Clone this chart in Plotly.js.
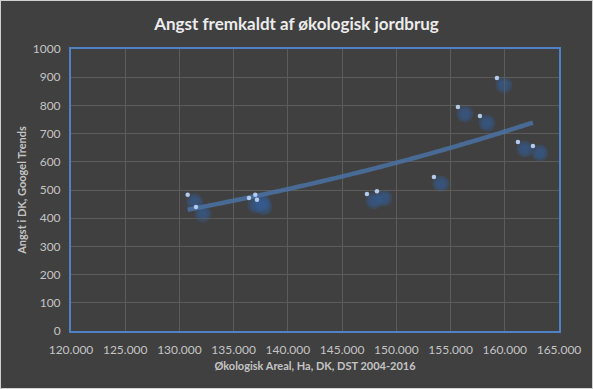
<!DOCTYPE html>
<html>
<head>
<meta charset="utf-8">
<script src="https://cdn.plot.ly/plotly-3.0.1.min.js"></script>
<style>
html,body{margin:0;padding:0;background:#404040;}
#wrap{width:591px;height:387px;border:1px solid #d0d0d0;overflow:hidden;}
#chart{width:591px;height:387px;}
</style>
</head>
<body>
<div id="wrap"><div id="chart"></div></div>
<script>
// Økologisk areal (ha) and Google Trends "angst" index, 2004-2016
const areal = [130760, 131525, 136412, 136992, 137150, 147291, 148213, 153469, 155681, 157710, 159277, 161213, 162596];
const angst = [483, 440, 472, 483, 465, 486, 496, 546, 794, 762, 897, 670, 656];
const xTicks = [120000, 125000, 130000, 135000, 140000, 145000, 150000, 155000, 160000, 165000];
const yTicks = [0, 100, 200, 300, 400, 500, 600, 700, 800, 900, 1000];

// Exponential trendline (least squares on ln y), as Excel does
const n = areal.length;
const lny = angst.map(v => Math.log(v));
const mx = areal.reduce((a, b) => a + b, 0) / n;
const my = lny.reduce((a, b) => a + b, 0) / n;
let sxy = 0, sxx = 0;
for (let i = 0; i < n; i++) { sxy += (areal[i] - mx) * (lny[i] - my); sxx += (areal[i] - mx) ** 2; }
const b = sxy / sxx, a = my - b * mx;
const xmin = Math.min(...areal), xmax = Math.max(...areal);
const trendX = [], trendY = [];
for (let k = 0; k <= 60; k++) { const x = xmin + (xmax - xmin) * k / 60; trendX.push(x); trendY.push(Math.exp(a + b * x)); }

const W = 591, H = 387;
const m = {l: 70, r: 33, t: 48, b: 57};
const pw = W - m.l - m.r, ph = H - m.t - m.b;
const off = 7;
const dx = off / pw, dy = off / ph;

// shadow blobs live on the first (hidden, shifted) subplot so they sit beneath the main marks
const blobLayers = [17, 13, 9].map(s => ({
  x: areal, y: angst, type: 'scatter', mode: 'markers', xaxis: 'x', yaxis: 'y',
  marker: {size: s, color: 'rgba(52,92,150,0.32)', line: {width: 0}},
  hoverinfo: 'skip', showlegend: false, cliponaxis: false
}));

const traces = [
  ...blobLayers,
  {x: trendX, y: trendY, type: 'scatter', mode: 'lines', xaxis: 'x2', yaxis: 'y2',
   line: {color: 'rgba(74,114,164,0.85)', width: 4.5, shape: 'spline'}, showlegend: false, hoverinfo: 'skip'},
  {x: areal, y: angst, type: 'scatter', mode: 'markers', xaxis: 'x2', yaxis: 'y2',
   marker: {size: 4.5, color: '#b3cbec', line: {width: 0}}, showlegend: false}
];

const fam = 'Lato, "Open Sans", sans-serif';
const axFont = {family: fam, size: 12, color: '#c4c4c4'};

const layout = {
  width: W, height: H,
  paper_bgcolor: '#404040', plot_bgcolor: 'rgba(0,0,0,0)',
  margin: m,
  separators: ',.',
  showlegend: false,
  title: {text: '<b>Angst fremkaldt af økologisk jordbrug</b>', x: 0.5, xanchor: 'center', y: 0.94, yanchor: 'middle',
          font: {family: fam, size: 17, color: '#ececec'}},
  xaxis: {domain: [dx, 1], range: [120000, 165000 - 45000 * dx], anchor: 'y', visible: false, fixedrange: true},
  yaxis: {domain: [0, 1 - dy], range: [1000 * dy, 1000], anchor: 'x', visible: false, fixedrange: true},
  xaxis2: {domain: [0, 1], anchor: 'y2', range: [120000, 165000], tickvals: xTicks, tickformat: ',d', tickfont: axFont,
          showgrid: true, gridcolor: '#5c5c5c', gridwidth: 1, zeroline: false, ticklabelstandoff: 7,
          showline: true, linecolor: '#4f81c4', linewidth: 2, mirror: true, ticks: '', ticklen: 0,
          title: {text: '<b>Økologisk Areal, Ha, DK, DST 2004-2016</b>', standoff: 6,
                  font: {family: fam, size: 11, color: '#c4c4c4'}}},
  yaxis2: {domain: [0, 1], anchor: 'x2', range: [0, 1000], tickvals: yTicks, tickformat: 'd', tickfont: axFont,
          showgrid: true, gridcolor: '#5c5c5c', gridwidth: 1, zeroline: false, ticklabelstandoff: 6,
          showline: true, linecolor: '#4f81c4', linewidth: 2, mirror: true, ticks: '', ticklen: 0,
          title: {text: '<b>Angst i DK, Googel Trends</b>', standoff: 4,
                  font: {family: fam, size: 11, color: '#c4c4c4'}}}
};

Plotly.newPlot('chart', traces, layout, {displayModeBar: false, staticPlot: true});
</script>
</body>
</html>
